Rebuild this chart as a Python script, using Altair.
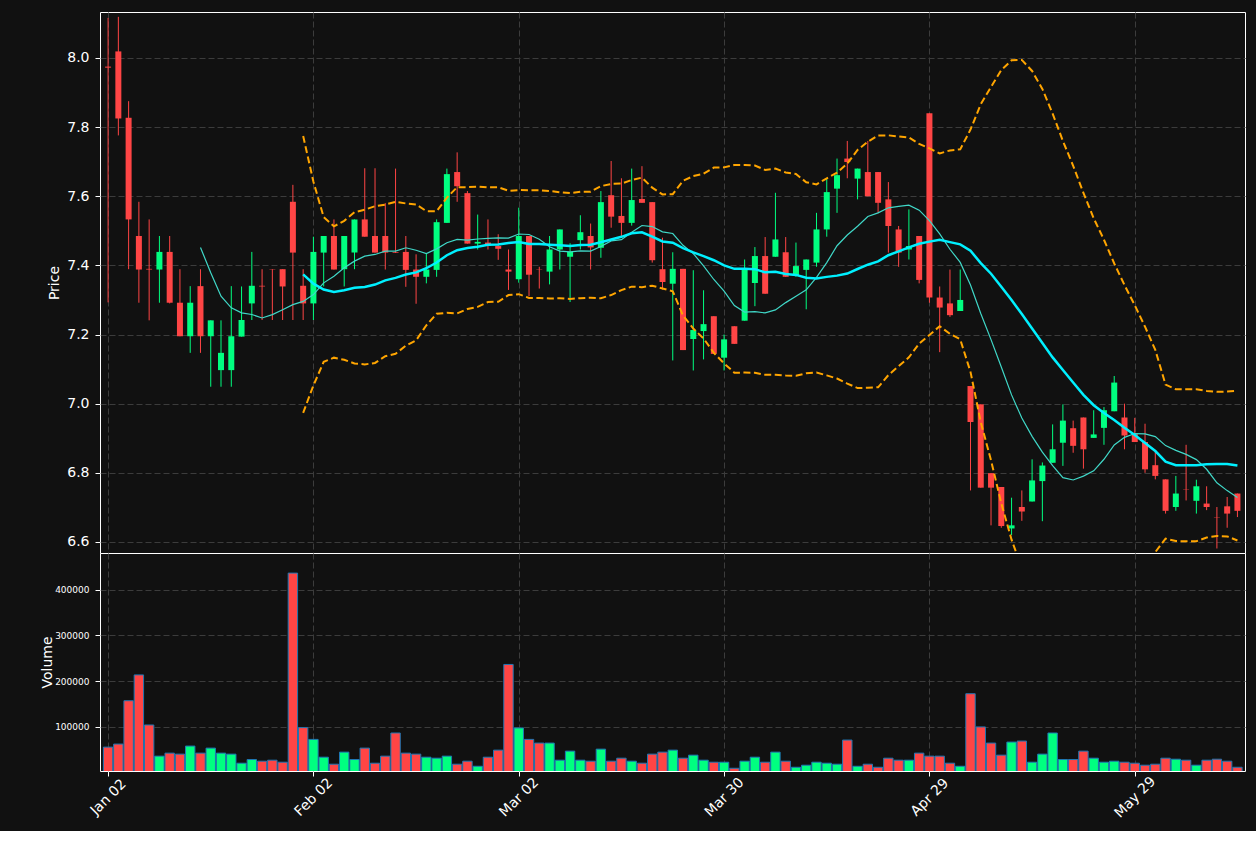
import altair as alt
import pandas as pd

# ---- data (one entry per trading day) ----
opens = [7.975, 8.019, 7.827, 7.485, 7.390, 7.388, 7.439, 7.292, 7.195, 7.340,
         7.195, 7.097, 7.097, 7.194, 7.290, 7.341, 7.389, 7.389, 7.584, 7.341,
         7.290, 7.437, 7.485, 7.389, 7.437, 7.533, 7.485, 7.485, 7.438, 7.439,
         7.388, 7.367, 7.387, 7.523, 7.670, 7.609, 7.463, 7.466, 7.456, 7.388,
         7.360, 7.485, 7.389, 7.382, 7.446, 7.425, 7.473, 7.485, 7.451, 7.603,
         7.543, 7.523, 7.592, 7.583, 7.389, 7.347, 7.390, 7.187, 7.210, 7.253,
         7.133, 7.224, 7.240, 7.349, 7.427, 7.425, 7.438, 7.370, 7.387, 7.408,
         7.504, 7.622, 7.709, 7.651, 7.670, 7.670, 7.591, 7.504, 7.446, 7.485,
         7.840, 7.307, 7.290, 7.268, 7.051, 6.998, 6.799, 6.759, 6.639, 6.701,
         6.717, 6.776, 6.829, 6.887, 6.929, 6.960, 6.901, 6.930, 6.978, 6.960,
         6.913, 6.889, 6.822, 6.781, 6.701, 6.752, 6.719, 6.711, 6.671, 6.703,
         6.740]
highs = [8.116, 8.119, 7.875, 7.584, 7.533, 7.485, 7.485, 7.389, 7.340, 7.389,
         7.241, 7.241, 7.340, 7.339, 7.439, 7.389, 7.389, 7.389, 7.633, 7.389,
         7.483, 7.485, 7.533, 7.485, 7.533, 7.681, 7.681, 7.580, 7.680, 7.485,
         7.432, 7.435, 7.533, 7.680, 7.727, 7.615, 7.547, 7.533, 7.490, 7.446,
         7.567, 7.485, 7.396, 7.485, 7.504, 7.464, 7.545, 7.521, 7.615, 7.702,
         7.652, 7.680, 7.687, 7.583, 7.480, 7.438, 7.390, 7.386, 7.328, 7.253,
         7.200, 7.224, 7.417, 7.453, 7.482, 7.610, 7.482, 7.466, 7.417, 7.552,
         7.652, 7.709, 7.760, 7.680, 7.760, 7.670, 7.641, 7.514, 7.562, 7.485,
         7.840, 7.339, 7.388, 7.388, 7.051, 6.998, 6.799, 6.759, 6.728, 6.749,
         6.839, 6.830, 6.940, 6.998, 6.951, 6.960, 6.981, 6.990, 7.080, 7.000,
         6.959, 6.942, 6.860, 6.781, 6.791, 6.881, 6.780, 6.761, 6.701, 6.730,
         6.740]
lows = [7.293, 7.776, 7.389, 7.292, 7.241, 7.292, 7.290, 7.195, 7.147, 7.147,
        7.049, 7.049, 7.049, 7.194, 7.242, 7.242, 7.242, 7.242, 7.242, 7.242,
        7.242, 7.339, 7.388, 7.339, 7.389, 7.483, 7.437, 7.388, 7.436, 7.338,
        7.289, 7.348, 7.367, 7.523, 7.584, 7.463, 7.446, 7.446, 7.416, 7.329,
        7.350, 7.311, 7.333, 7.345, 7.388, 7.294, 7.446, 7.388, 7.422, 7.509,
        7.485, 7.515, 7.581, 7.408, 7.330, 7.125, 7.155, 7.096, 7.128, 7.144,
        7.096, 7.173, 7.240, 7.282, 7.318, 7.425, 7.367, 7.367, 7.273, 7.396,
        7.483, 7.552, 7.652, 7.591, 7.600, 7.552, 7.437, 7.396, 7.417, 7.348,
        7.292, 7.149, 7.251, 7.268, 6.749, 6.757, 6.648, 6.641, 6.620, 6.661,
        6.717, 6.660, 6.829, 6.820, 6.858, 6.812, 6.901, 6.881, 6.978, 6.868,
        6.889, 6.800, 6.781, 6.682, 6.690, 6.720, 6.682, 6.692, 6.581, 6.641,
        6.672]
closes = [7.972, 7.825, 7.533, 7.388, 7.388, 7.439, 7.292, 7.195, 7.292, 7.195,
          7.241, 7.147, 7.195, 7.242, 7.341, 7.339, 7.388, 7.339, 7.437, 7.290,
          7.439, 7.485, 7.388, 7.485, 7.533, 7.483, 7.437, 7.437, 7.436, 7.387,
          7.367, 7.388, 7.525, 7.664, 7.629, 7.463, 7.468, 7.456, 7.448, 7.382,
          7.485, 7.373, 7.388, 7.446, 7.504, 7.439, 7.496, 7.452, 7.583, 7.541,
          7.523, 7.589, 7.581, 7.415, 7.352, 7.390, 7.155, 7.213, 7.230, 7.144,
          7.186, 7.173, 7.390, 7.427, 7.318, 7.475, 7.367, 7.398, 7.417, 7.504,
          7.612, 7.661, 7.699, 7.680, 7.600, 7.581, 7.514, 7.437, 7.456, 7.358,
          7.307, 7.278, 7.256, 7.300, 6.947, 6.757, 6.757, 6.646, 6.648, 6.688,
          6.778, 6.821, 6.868, 6.951, 6.878, 6.868, 6.911, 6.981, 7.061, 6.908,
          6.889, 6.810, 6.791, 6.690, 6.740, 6.751, 6.761, 6.701, 6.670, 6.682,
          6.690]
volumes = [55000, 61700, 156800, 213500, 103600, 35200, 41800, 39600, 57300, 41800,
           52800, 41800, 39600, 19700, 27800, 24100, 26300, 21900, 436900, 97800,
           72000, 32900, 17500, 44000, 27800, 52800, 19700, 35200, 86000, 41800,
           39600, 32900, 30700, 35200, 17500, 24100, 13000, 32900, 48400, 236400,
           97100, 72000, 63900, 63900, 26300, 46200, 26300, 24100, 50600, 24100,
           30700, 24100, 19700, 39600, 44000, 48400, 30700, 37400, 26300, 21900,
           21900, 8600, 24100, 32900, 21900, 44000, 24100, 10800, 15300, 21900,
           19700, 17500, 70500, 13000, 17500, 10800, 30700, 26300, 26300, 41800,
           35200, 35200, 19700, 13000, 172200, 99300, 63900, 37400, 66100, 68300,
           21900, 39600, 86000, 27800, 27800, 46200, 30700, 21900, 24100, 21900,
           19700, 15300, 17500, 30700, 28500, 26300, 15300, 26300, 28500, 24100,
           10800]
tick_index = [0, 20, 40, 60, 80, 100]
tick_labels = ["Jan 02", "Feb 02", "Mar 02", "Mar 30", "Apr 29", "May 29"]
price_ticks = [6.6, 6.8, 7.0, 7.2, 7.4, 7.6, 7.8, 8.0]
volume_ticks = [100000, 200000, 300000, 400000]

# ---- styling ----
BG = "#111111"
UP = "#00ff80"
DOWN = "#ff4545"
EDGE = "#1f77b4"
GRID = "#3c3c3c"
FONT = "DejaVu Sans"

df = pd.DataFrame({"i": list(range(len(closes))), "open": opens, "high": highs,
                   "low": lows, "close": closes, "volume": volumes})
df["dir"] = ["up" if c >= o else "down" for o, c in zip(opens, closes)]

label_expr = "''"
for v, lab in zip(reversed(tick_index), reversed(tick_labels)):
    label_expr = f"datum.value == {v} ? '{lab}' : ({label_expr})"

xscale = alt.Scale(domain=[-0.3, 110.25], nice=False, zero=False)
pscale = alt.Scale(domain=[6.568, 8.133], nice=False, zero=False)
vscale = alt.Scale(domain=[2600, 481000], nice=False, zero=False)
color = alt.Color("dir:N", scale=alt.Scale(domain=["up", "down"], range=[UP, DOWN]), legend=None)

x_top = alt.X("i:Q", scale=xscale,
              axis=alt.Axis(values=tick_index, labels=False, ticks=False, domain=False,
                            grid=True, title=None))
price_axis = alt.Axis(values=price_ticks, format=".1f", title="Price", grid=True,
                      tickSize=5, labelPadding=6, titleX=-39, domain=False)


def py(field):
    return alt.Y(f"{field}:Q", scale=pscale, axis=price_axis)


base = alt.Chart(df)
wicks = base.mark_rule(strokeWidth=1).encode(x=x_top, y=py("low"), y2="high:Q", color=color)
bodies = base.mark_bar(size=6).encode(x=x_top, y=py("open"), y2="close:Q", color=color)

ma10 = base.transform_window(
    ma10="mean(close)", n10="count()", frame=[-9, 0], sort=[alt.SortField("i")]
).transform_filter("datum.n10 >= 10").mark_line(
    color="#40d8c8", strokeWidth=1.2, clip=True
).encode(x=x_top, y=py("ma10"))

boll = base.transform_window(
    ma20="mean(close)", sd20="stdevp(close)", n20="count()", frame=[-19, 0],
    sort=[alt.SortField("i")]
).transform_filter("datum.n20 >= 20").transform_calculate(
    upper="datum.ma20 + 2 * datum.sd20", lower="datum.ma20 - 2 * datum.sd20")

ma20 = boll.mark_line(color="#00f0ff", strokeWidth=2.5, clip=True).encode(x=x_top, y=py("ma20"))
upper = boll.mark_line(color="#ffa500", strokeWidth=2, strokeDash=[7, 3.5], clip=True).encode(
    x=x_top, y=py("upper"))
lower = boll.mark_line(color="#ffa500", strokeWidth=2, strokeDash=[7, 3.5], clip=True).encode(
    x=x_top, y=py("lower"))

price = alt.layer(wicks, bodies, upper, lower, ma10, ma20).properties(width=1145, height=541)

x_bot = alt.X("i:Q", scale=xscale,
              axis=alt.Axis(values=tick_index, labelExpr=label_expr, grid=True, title=None,
                            tickSize=5, labelAngle=-45, labelAlign="center",
                            labelBaseline="middle", labelPadding=21, domain=False))
vol = base.mark_bar(size=9.4, stroke=EDGE, strokeWidth=1, clip=True).encode(
    x=x_bot,
    y=alt.Y("volume:Q", scale=vscale,
            axis=alt.Axis(values=volume_ticks, format="d", title="Volume", grid=True,
                          tickSize=5, labelPadding=6, labelFontSize=9, titleX=-46,
                          domain=False)),
    color=color,
).properties(width=1145, height=218)

chart = alt.vconcat(price, vol, spacing=0, bounds="flush").properties(
    background=BG,
    padding={"left": 39, "top": 11, "right": 10, "bottom": 10},
).configure_view(
    stroke="#ffffff", strokeWidth=1, fill=BG
).configure_axis(
    labelColor="#ffffff", titleColor="#ffffff", tickColor="#ffffff",
    labelFont=FONT, titleFont=FONT, labelFontSize=14, titleFontSize=14,
    titleFontWeight="normal", gridColor=GRID, gridDash=[6, 3], gridWidth=1,
)

chart.save("out.html", embed_options={"renderer": "svg", "actions": False})
